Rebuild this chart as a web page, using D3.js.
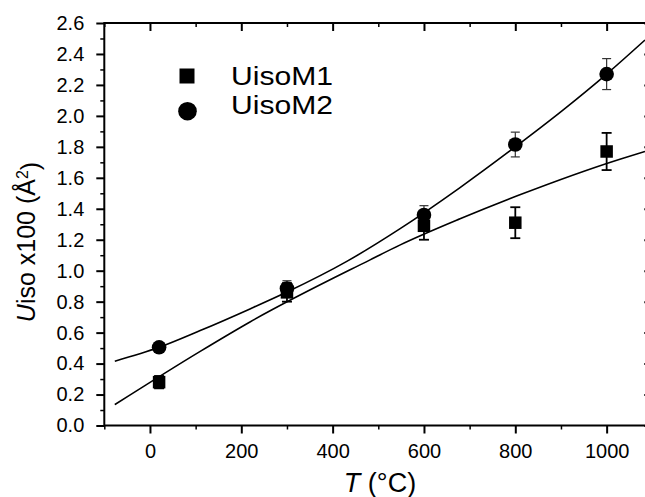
<!DOCTYPE html>
<html>
<head>
<meta charset="utf-8">
<script src="https://cdn.jsdelivr.net/npm/d3@7"></script>
<style>
  html, body { margin: 0; padding: 0; background: #fff; }
  svg { display: block; }
  text { font-family: "Liberation Sans", Arial, Helvetica, sans-serif; fill: #000; }
</style>
</head>
<body>
<svg id="chart" width="645" height="497"></svg>
<script>
// ---- data ----
const temps = [20, 300, 600, 800, 1000];
const uisoM1 = [0.28, 0.86, 1.29, 1.31, 1.77];
const uisoM1Err = [0.04, 0.06, 0.09, 0.10, 0.12];
const uisoM2 = [0.505, 0.885, 1.36, 1.815, 2.27];
const uisoM2Err = [0.02, 0.05, 0.06, 0.08, 0.10];

// fitted curves
const fit1T = [-77, 110, 219, 482, 547, 679, 810, 1029, 1084];
const fit1V = [0.135, 0.479, 0.669, 1.07, 1.165, 1.335, 1.49, 1.72, 1.77];
const fit2T = [-77, 20, 110, 219, 300, 431, 547, 679, 800, 905, 1000, 1084];
const fit2V = [0.415, 0.505, 0.613, 0.753, 0.862, 1.06, 1.27, 1.537, 1.80, 2.039, 2.27, 2.49];

const xMajor = [0, 200, 400, 600, 800, 1000];
const xMinor = [-100, 100, 300, 500, 700, 900, 1100];
const yMajor = [0, 0.2, 0.4, 0.6, 0.8, 1.0, 1.2, 1.4, 1.6, 1.8, 2.0, 2.2, 2.4, 2.6];
const yMinor = [0.1, 0.3, 0.5, 0.7, 0.9, 1.1, 1.3, 1.5, 1.7, 1.9, 2.1, 2.3, 2.5];
const seriesNames = ["UisoM1", "UisoM2"];

// ---- layout ----
const svg = d3.select("#chart");
const x = d3.scaleLinear().domain([-100, 1100]).range([104.3, 652.3]);
const y = d3.scaleLinear().domain([0, 2.6]).range([425.5, 23]);
const [x0, x1] = x.range();
const [yB, yT] = y.range();

svg.append("clipPath").attr("id", "plotclip")
  .append("rect").attr("x", x0).attr("y", yT).attr("width", x1 - x0).attr("height", yB - yT);

function styleAxis(g, w) {
  g.select(".domain").remove();
  g.selectAll(".tick line").attr("stroke", "#000").attr("stroke-width", w);
}

// bottom axis
svg.append("g").attr("transform", `translate(0,${yB})`)
  .call(d3.axisBottom(x).tickValues(xMinor).tickSize(4).tickFormat(""))
  .call(g => styleAxis(g, 1.5));
const xb = svg.append("g").attr("transform", `translate(0,${yB})`)
  .call(d3.axisBottom(x).tickValues(xMajor).tickSize(8).tickPadding(10).tickFormat(d3.format("d")))
  .call(g => styleAxis(g, 2));
xb.selectAll("text").style("font-size", "20px").attr("fill", "#000");

// top axis (inward ticks)
svg.append("g").attr("transform", `translate(0,${yT})`)
  .call(d3.axisTop(x).tickValues(xMinor).tickSize(-4).tickFormat(""))
  .call(g => styleAxis(g, 1.5));
svg.append("g").attr("transform", `translate(0,${yT})`)
  .call(d3.axisTop(x).tickValues(xMajor).tickSize(-8).tickFormat(""))
  .call(g => styleAxis(g, 2));

// left axis
svg.append("g").attr("transform", `translate(${x0},0)`)
  .call(d3.axisLeft(y).tickValues(yMinor).tickSize(4).tickFormat(""))
  .call(g => styleAxis(g, 1.5));
const yl = svg.append("g").attr("transform", `translate(${x0},0)`)
  .call(d3.axisLeft(y).tickValues(yMajor).tickSize(8).tickPadding(12).tickFormat(d3.format(".1f")))
  .call(g => styleAxis(g, 2));
yl.selectAll("text").style("font-size", "20px").attr("fill", "#000");

// right axis (inward ticks)
svg.append("g").attr("transform", `translate(${x1},0)`)
  .call(d3.axisRight(y).tickValues(yMinor).tickSize(-4).tickFormat(""))
  .call(g => styleAxis(g, 1.5));
svg.append("g").attr("transform", `translate(${x1},0)`)
  .call(d3.axisRight(y).tickValues(yMajor).tickSize(-8).tickFormat(""))
  .call(g => styleAxis(g, 2));

// frame
svg.append("rect").attr("x", x0).attr("y", yT).attr("width", x1 - x0).attr("height", yB - yT)
  .attr("fill", "none").attr("stroke", "#000").attr("stroke-width", 2);

// fit curves
const line = d3.line().x(d => x(d[0])).y(d => y(d[1])).curve(d3.curveMonotoneX);
const plot = svg.append("g").attr("clip-path", "url(#plotclip)");
plot.append("path").datum(d3.zip(fit1T, fit1V)).attr("d", line)
  .attr("fill", "none").attr("stroke", "#000").attr("stroke-width", 1.6);
plot.append("path").datum(d3.zip(fit2T, fit2V)).attr("d", line)
  .attr("fill", "none").attr("stroke", "#000").attr("stroke-width", 1.6);

// error bars
function errorBars(vals, errs, color, width, cap) {
  const g = svg.append("g");
  temps.forEach((t, i) => {
    const cx = x(t), lo = y(vals[i] - errs[i]), hi = y(vals[i] + errs[i]);
    g.append("line").attr("x1", cx).attr("x2", cx).attr("y1", lo).attr("y2", hi)
      .attr("stroke", color).attr("stroke-width", width);
    [lo, hi].forEach(yy => g.append("line").attr("x1", cx - cap).attr("x2", cx + cap)
      .attr("y1", yy).attr("y2", yy).attr("stroke", color).attr("stroke-width", width));
  });
}
errorBars(uisoM2, uisoM2Err, "#333", 1.2, 4.5);
errorBars(uisoM1, uisoM1Err, "#000", 1.8, 5);

// markers
const sq = 12.5;
svg.append("g").selectAll("rect").data(d3.zip(temps, uisoM1)).join("rect")
  .attr("x", d => x(d[0]) - sq / 2).attr("y", d => y(d[1]) - sq / 2)
  .attr("width", sq).attr("height", sq).attr("fill", "#000");
svg.append("g").selectAll("circle").data(d3.zip(temps, uisoM2)).join("circle")
  .attr("cx", d => x(d[0])).attr("cy", d => y(d[1])).attr("r", 7.3).attr("fill", "#000");

// legend
const lg = svg.append("g");
lg.append("rect").attr("x", 179.5).attr("y", 68.5).attr("width", 15).attr("height", 15).attr("fill", "#000");
lg.append("circle").attr("cx", 187.5).attr("cy", 111.2).attr("r", 9.3).attr("fill", "#000");
lg.append("text").attr("x", 231).attr("y", 85).style("font-size", "25px")
  .attr("textLength", 102).attr("lengthAdjust", "spacingAndGlyphs").text(seriesNames[0]);
lg.append("text").attr("x", 231).attr("y", 114).style("font-size", "25px")
  .attr("textLength", 102).attr("lengthAdjust", "spacingAndGlyphs").text(seriesNames[1]);

// axis titles
const xt = svg.append("text").attr("x", 380).attr("y", 492).attr("text-anchor", "middle").style("font-size", "27px");
xt.append("tspan").style("font-style", "italic").text("T");
xt.append("tspan").text(" (°C)");

const yt = svg.append("text").attr("transform", "translate(35,242) rotate(-90)")
  .attr("text-anchor", "middle").style("font-size", "25px");
yt.append("tspan").style("font-style", "italic").text("U");
yt.append("tspan").text("iso x100 (Å");
yt.append("tspan").attr("dy", "-0.45em").style("font-size", "16px").text("2");
yt.append("tspan").attr("dy", "0.45em").text(")");
</script>
</body>
</html>
